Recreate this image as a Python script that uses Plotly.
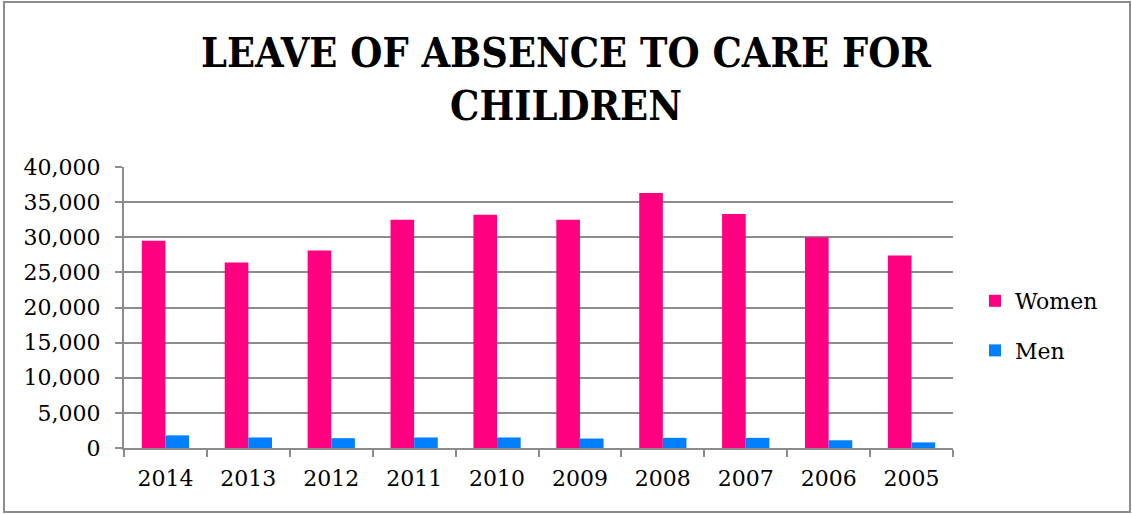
import plotly.graph_objects as go

years = ["2014", "2013", "2012", "2011", "2010", "2009", "2008", "2007", "2006", "2005"]
women = [29500, 26400, 28100, 32500, 33200, 32500, 36300, 33300, 30000, 27400]
men = [1800, 1500, 1400, 1500, 1500, 1350, 1450, 1450, 1100, 800]
y_ticks = [0, 5000, 10000, 15000, 20000, 25000, 30000, 35000, 40000]

W, H = 1132, 514
L, R, T, B = 124, 953, 167, 448

fig = go.Figure()
fig.add_trace(go.Bar(x=years, y=women, name="Women", marker_color="#FF0080",
                     marker_line_width=0, legendgroup="w"))
fig.add_trace(go.Bar(x=years, y=men, name="Men", marker_color="#0080FF",
                     marker_line_width=0, legendgroup="m"))

def px_x(p):
    return (p - L) / (R - L)

def px_y(p):
    return (B - p) / (B - T)

fig.update_layout(
    width=W, height=H,
    margin=dict(l=L, r=W - R, t=T, b=H - B, pad=0),
    paper_bgcolor="white", plot_bgcolor="white",
    barmode="group", bargap=0.43, bargroupgap=0,
    title=dict(text="LEAVE OF ABSENCE TO CARE FOR<br>CHILDREN",
               x=0.5, xanchor="center", xref="container",
               y=1 - 67 / H, yanchor="middle", yref="container",
               font=dict(family="DejaVu Serif Condensed", size=41, color="black", weight="bold")),
    font=dict(family="DejaVu Serif", size=22, color="black"),
    showlegend=True,
    legend=dict(x=px_x(975), xanchor="left", y=px_y(326), yanchor="middle",
                font=dict(family="DejaVu Serif", size=22, color="black"),
                tracegroupgap=18, bgcolor="rgba(0,0,0,0)"),
    xaxis=dict(type="category", showgrid=False, showline=True, linecolor="#8c8c8c", linewidth=2,
               ticks="outside", tickson="boundaries", ticklen=7, tickwidth=2, tickcolor="#8c8c8c",
               ticklabelstandoff=10),
    yaxis=dict(range=[0, 40000], tickvals=y_ticks, tickformat=",d",
               showgrid=True, gridcolor="#8c8c8c", gridwidth=2,
               showline=True, linecolor="#8c8c8c", linewidth=2,
               ticks="outside", ticklen=7, tickwidth=2, tickcolor="#8c8c8c",
               ticklabelstandoff=10, zeroline=False),
    shapes=[dict(type="rect", xref="paper", yref="paper",
                 x0=px_x(4), x1=px_x(1130), y0=px_y(512), y1=px_y(2),
                 line=dict(color="#8c8c8c", width=2), fillcolor="rgba(0,0,0,0)", layer="below")],
)

fig.write_html("out.html")
